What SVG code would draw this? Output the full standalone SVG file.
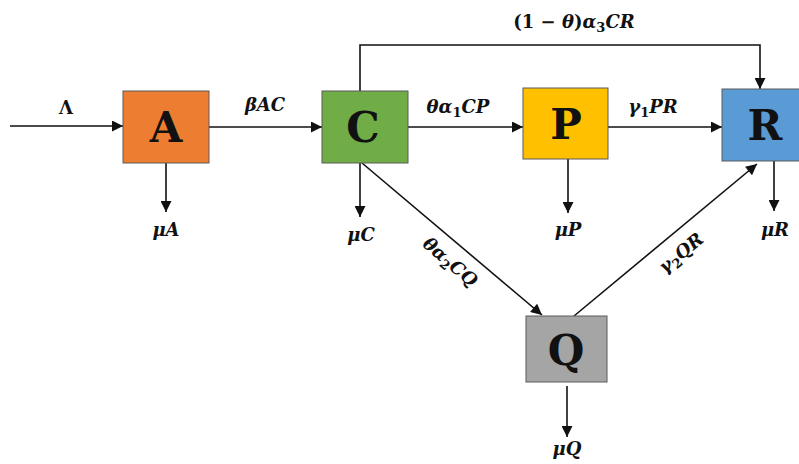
<svg xmlns="http://www.w3.org/2000/svg" width="799" height="464" viewBox="0 0 799 464">
<style>
.box{stroke:#5a5a5a;stroke-width:1}
.node{font-family:"DejaVu Serif",serif;font-weight:bold;font-size:42px;fill:#111;text-anchor:middle}
.lbl{font-family:"DejaVu Serif",serif;font-weight:bold;font-style:italic;font-size:18px;fill:#111;text-anchor:middle}
.up{font-style:normal}
.sub{font-size:13px}
.ln{stroke:#111;stroke-width:1.6;fill:none;marker-end:url(#ah)}
</style>
<defs>
<marker id="ah" viewBox="0 0 10 10" refX="10" refY="5" markerWidth="12" markerHeight="11" markerUnits="userSpaceOnUse" orient="auto">
<path d="M0,0 L10,5 L0,10 z" fill="#111"/>
</marker>
</defs>
<rect width="799" height="464" fill="#fff"/>
<g id="connectors">
<line class="ln" x1="10" y1="126" x2="123" y2="126"/>
<line class="ln" x1="209" y1="127" x2="322" y2="127"/>
<line class="ln" x1="408" y1="127" x2="523" y2="127"/>
<line class="ln" x1="608" y1="127" x2="722" y2="127"/>
<polyline class="ln" points="360,91 360,45 760,45 760,89"/>
<line class="ln" x1="166" y1="163" x2="166" y2="212"/>
<line class="ln" x1="360" y1="163" x2="360" y2="217"/>
<line class="ln" x1="568" y1="159" x2="568" y2="213"/>
<line class="ln" x1="774" y1="161" x2="774" y2="211"/>
<line class="ln" x1="567" y1="386" x2="567" y2="437"/>
<line class="ln" x1="362" y1="163" x2="542" y2="315"/>
<line class="ln" x1="574" y1="316" x2="757" y2="164"/>
</g>
<g id="labels">
<text class="lbl" x="66" y="114"><tspan class="up">Λ</tspan></text>
<text class="lbl" x="265" y="111">βAC</text>
<text class="lbl" x="574" y="28"><tspan class="up">(1 − </tspan>θ<tspan class="up">)</tspan>α<tspan class="sub up" dy="4">3</tspan><tspan dy="-4">CR</tspan></text>
<text class="lbl" x="458" y="113">θα<tspan class="sub up" dy="4">1</tspan><tspan dy="-4">CP</tspan></text>
<text class="lbl" x="653" y="113">γ<tspan class="sub up" dy="4">1</tspan><tspan dy="-4">PR</tspan></text>
<text class="lbl" x="166" y="236">μA</text>
<text class="lbl" x="361" y="241">μC</text>
<text class="lbl" x="568" y="236">μP</text>
<text class="lbl" x="775" y="236">μR</text>
<text class="lbl" x="567" y="455">μQ</text>
<text class="lbl" transform="translate(450,262) rotate(40.4)" x="0" y="6">θα<tspan class="sub up" dy="4">2</tspan><tspan dy="-4">CQ</tspan></text>
<text class="lbl" transform="translate(681,253) rotate(-39.7)" x="0" y="6">γ<tspan class="sub up" dy="4">2</tspan><tspan dy="-4">QR</tspan></text>
</g>
<g id="node-A"><rect class="box" x="123" y="91" width="86" height="72" fill="#ED7D31"/><text class="node" x="166" y="142">A</text></g>
<g id="node-C"><rect class="box" x="322" y="91" width="86" height="72" fill="#70AD47"/><text class="node" x="363" y="142">C</text></g>
<g id="node-P"><rect class="box" x="523" y="88" width="85" height="71" fill="#FFC000"/><text class="node" x="566" y="139">P</text></g>
<g id="node-R"><rect class="box" x="722" y="89" width="90" height="72" fill="#5B9BD5"/><text class="node" x="765" y="140">R</text></g>
<g id="node-Q"><rect class="box" x="526" y="316" width="81" height="66" fill="#A5A5A5"/><text class="node" x="566" y="365">Q</text></g>
</svg>
